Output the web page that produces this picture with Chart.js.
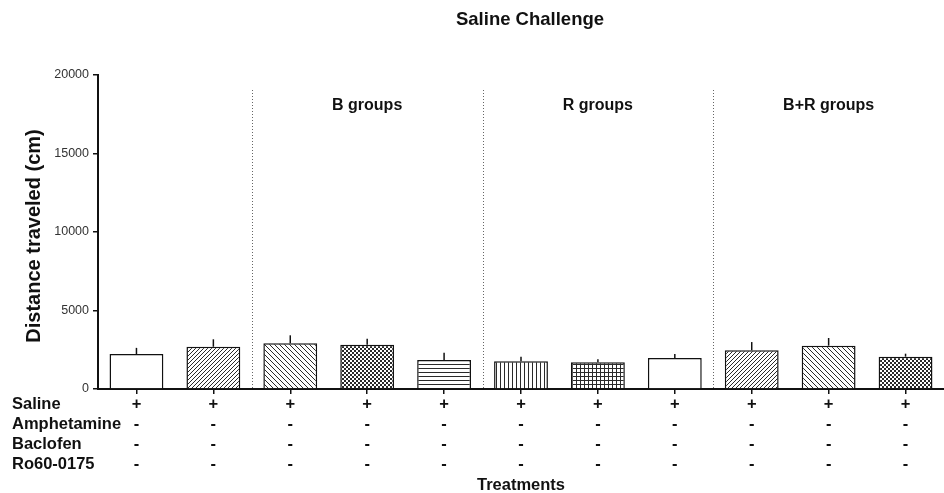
<!DOCTYPE html>
<html>
<head>
<meta charset="utf-8">
<script src="https://cdn.jsdelivr.net/npm/chart.js@4.4.1/dist/chart.umd.min.js"></script>
<style>
  html, body { margin: 0; padding: 0; background: #fff; }
  #wrap { width: 944px; height: 493px; position: relative; }
</style>
</head>
<body>
<div id="wrap"><canvas id="c" width="944" height="493"></canvas></div>
<script>
// Treatment table rows (one entry per bar)
const rowNames    = ['Saline', 'Amphetamine', 'Baclofen', 'Ro60-0175'];
const saline      = ['+', '+', '+', '+', '+', '+', '+', '+', '+', '+', '+'];
const amphetamine = ['-', '-', '-', '-', '-', '-', '-', '-', '-', '-', '-'];
const baclofen    = ['-', '-', '-', '-', '-', '-', '-', '-', '-', '-', '-'];
const ro600175    = ['-', '-', '-', '-', '-', '-', '-', '-', '-', '-', '-'];

// Mean distance traveled (cm) and upper error (SEM)
const distance = [2230, 2690, 2910, 2820, 1850, 1765, 1700, 1975, 2465, 2760, 2060];
const sem      = [390, 475, 510, 380, 460, 295, 190, 255, 525, 490, 190];

// Fill pattern for each bar
const fills = ['none', 'fwd', 'back', 'check', 'horiz', 'vert', 'grid', 'none', 'fwd', 'back', 'check'];

// Group sections: label, index of centre bar, first bar of each section
const groupLabels  = ['B groups', 'R groups', 'B+R groups'];
const groupCentres = [3, 6, 9];
const separators   = [2, 5, 8];

const yTicks = [0, 5000, 10000, 15000, 20000];

const FONT = "'Liberation Sans', Arial, sans-serif";

function makePattern(kind) {
  if (kind === 'none') return '#ffffff';
  const size = kind === 'back' ? 5 : 4;
  const cv = document.createElement('canvas');
  cv.width = size; cv.height = size;
  const g = cv.getContext('2d');
  g.fillStyle = '#ffffff';
  g.fillRect(0, 0, size, size);
  g.strokeStyle = '#2a2a2a';
  g.fillStyle = '#2a2a2a';
  g.lineWidth = 1;
  if (kind === 'fwd') {
    g.beginPath();
    g.moveTo(-1, size + 1); g.lineTo(size + 1, -1);
    g.moveTo(-1, 1); g.lineTo(1, -1);
    g.moveTo(size - 1, size + 1); g.lineTo(size + 1, size - 1);
    g.stroke();
  } else if (kind === 'back') {
    g.beginPath();
    g.moveTo(-1, -1); g.lineTo(size + 1, size + 1);
    g.moveTo(size - 1, -1); g.lineTo(size + 1, 1);
    g.moveTo(-1, size - 1); g.lineTo(1, size + 1);
    g.stroke();
  } else if (kind === 'check') {
    g.fillRect(0, 0, 2, 2);
    g.fillRect(2, 2, 2, 2);
  } else if (kind === 'horiz') {
    g.fillRect(0, 0, size, 1);
  } else if (kind === 'vert') {
    g.fillRect(0, 0, 1, size);
  } else if (kind === 'grid') {
    g.fillRect(0, 0, size, 1);
    g.fillRect(0, 0, 1, size);
  }
  return g.createPattern(cv, 'repeat');
}

const labels = saline.map((_, i) => [saline[i], amphetamine[i], baclofen[i], ro600175[i]]);

const decorations = {
  id: 'decorations',
  afterDatasetsDraw(chart) {
    const ctx = chart.ctx;
    const x = chart.scales.x, y = chart.scales.y;
    const area = chart.chartArea;
    const meta = chart.getDatasetMeta(0);
    ctx.save();

    // error whiskers (upper only)
    ctx.strokeStyle = '#111';
    ctx.lineWidth = 1.5;
    distance.forEach((v, i) => {
      const bar = meta.data[i];
      ctx.beginPath();
      ctx.moveTo(bar.x, bar.y);
      ctx.lineTo(bar.x, y.getPixelForValue(v + sem[i]));
      ctx.stroke();
    });

    // dotted separators between groups
    ctx.strokeStyle = '#666';
    ctx.lineWidth = 1;
    ctx.setLineDash([1, 2]);
    separators.forEach(s => {
      const px = Math.round((x.getPixelForValue(s - 1) + x.getPixelForValue(s)) / 2) + 0.5;
      ctx.beginPath();
      ctx.moveTo(px, 90);
      ctx.lineTo(px, area.bottom);
      ctx.stroke();
    });
    ctx.setLineDash([]);

    // group headings
    ctx.fillStyle = '#111';
    ctx.font = 'bold 16px ' + FONT;
    ctx.textAlign = 'center';
    ctx.textBaseline = 'middle';
    groupLabels.forEach((t, k) => {
      ctx.fillText(t, x.getPixelForValue(groupCentres[k]), 106);
    });

    // title
    ctx.font = 'bold 18.5px ' + FONT;
    ctx.fillText('Saline Challenge', 530, 20);

    // y axis title
    ctx.save();
    ctx.translate(34, 236);
    ctx.rotate(-Math.PI / 2);
    ctx.font = 'bold 20px ' + FONT;
    ctx.fillText('Distance traveled (cm)', 0, 0);
    ctx.restore();

    // treatment table
    const rows = [saline, amphetamine, baclofen, ro600175];
    ctx.font = 'bold 16.5px ' + FONT;
    rows.forEach((row, r) => {
      const ry = 404 + r * 20;
      ctx.textAlign = 'left';
      ctx.fillText(rowNames[r], 12, ry);
      ctx.textAlign = 'center';
      row.forEach((s, i) => ctx.fillText(s, x.getPixelForValue(i), ry));
    });

    // x axis title
    ctx.fillText('Treatments', 521, 485);
    ctx.restore();
  }
};

new Chart(document.getElementById('c'), {
  type: 'bar',
  data: {
    labels: labels,
    datasets: [{
      data: distance,
      backgroundColor: fills.map(makePattern),
      borderColor: '#111',
      borderWidth: 1.5,
      borderSkipped: 'bottom',
      barPercentage: 0.7,
      categoryPercentage: 1.0
    }]
  },
  options: {
    responsive: false,
    animation: false,
    devicePixelRatio: 1,
    layout: { padding: { top: 75, left: 0, right: 0, bottom: 0 } },
    plugins: { legend: { display: false }, tooltip: { enabled: false } },
    scales: {
      x: {
        offset: true,
        afterFit(s) { s.height = 104; },
        ticks: { display: false },
        grid: { display: true, offset: false, drawOnChartArea: false, drawTicks: true, tickLength: 5, color: '#111', lineWidth: 1.5 },
        border: { display: true, color: '#111', width: 2 }
      },
      y: {
        min: 0,
        max: 20000,
        afterFit(s) { s.width = 98; },
        afterBuildTicks(s) { s.ticks = yTicks.map(v => ({ value: v })); },
        ticks: { color: '#333', font: { family: FONT, size: 12.5 }, padding: 4, callback: v => String(v) },
        grid: { display: true, drawOnChartArea: false, drawTicks: true, tickLength: 5, color: '#111', lineWidth: 1.5 },
        border: { display: true, color: '#111', width: 2 }
      }
    }
  },
  plugins: [decorations]
});
</script>
</body>
</html>
